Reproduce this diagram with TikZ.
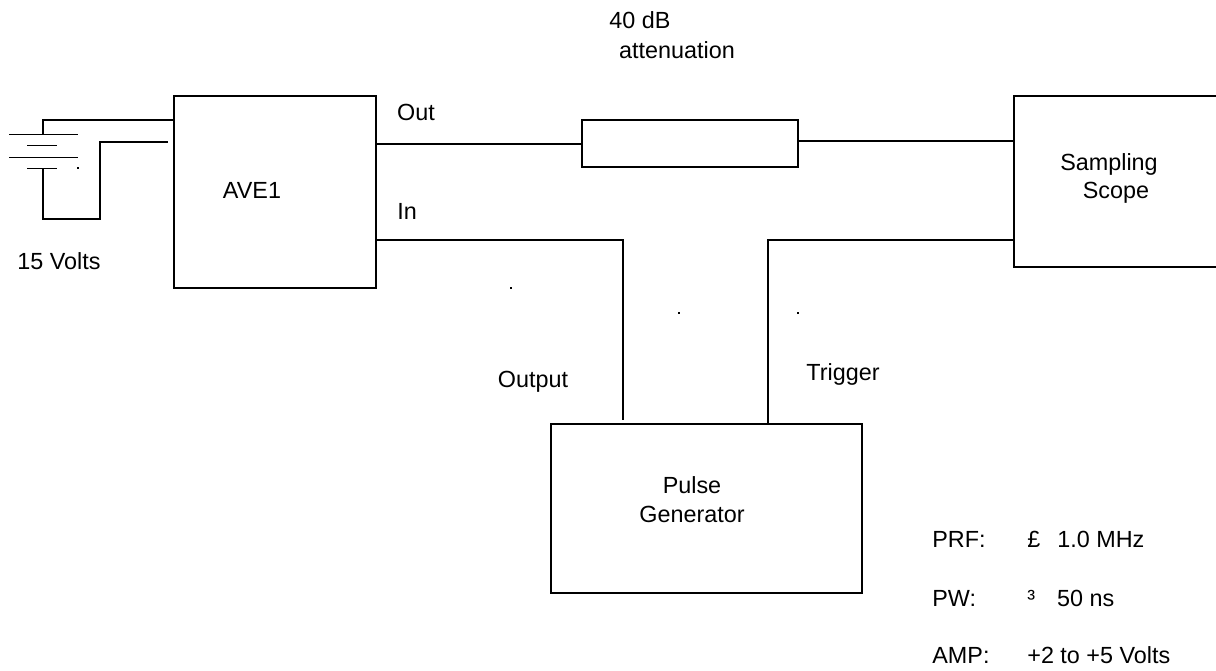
\documentclass[tikz,border=0pt]{standalone}
\usepackage{fontspec}
\setmainfont{Liberation Sans}
\usetikzlibrary{positioning}
\tikzset{
  unit/.style={draw, line width=.3mm, inner sep=0pt},
  wire/.style={line width=.3mm},
  plate/.style={line width=.2mm},
  lbl/.style={inner sep=0pt, align=center, font=\fontsize{13.3}{16.5}\selectfont},
  spec/.style={lbl, anchor=west},
  speck/.style={fill=black, inner sep=0pt, minimum size=.03cm}
}
\begin{document}
\begin{tikzpicture}[x=.02cm, y=-.02cm]
        \useasboundingbox (0, 0) rectangle (1216, 671);

        % boxes
        \node[unit, minimum width=4.04cm, minimum height=3.84cm] (ave) at(275, 192){};
        \node[unit, minimum width=4.32cm, minimum height=.94cm] (atten) at(690, 143.5){};
        \node[unit, minimum width=6.22cm, minimum height=3.38cm] (pulse) at(706.5, 508.5){};
        \coordinate (scopeTL) at(1014, 96);
        \coordinate (scopeBL) at(1014, 267);
        \coordinate (scopeTR) at(1216, 96);
        \coordinate (scopeBR) at(1216, 267);
        \draw[wire](scopeTR) -- (scopeTL) -- (scopeBL) -- (scopeBR);

        % battery
        \coordinate (plateA1) at(9, 135);
        \coordinate (plateA2) at(78, 135);
        \coordinate (plateB1) at(27, 146);
        \coordinate (plateB2) at(57, 146);
        \coordinate (plateC1) at(9, 157.5);
        \coordinate (plateC2) at(78, 157.5);
        \coordinate (plateD1) at(27, 169);
        \coordinate (plateD2) at(57, 169);
        \draw[plate](plateA1) to (plateA2);
        \draw[plate](plateB1) to (plateB2);
        \draw[plate](plateC1) to (plateC2);
        \draw[plate](plateD1) to (plateD2);
        \coordinate (battTop) at(43, 135);
        \coordinate (battBot) at(43, 169);
        \coordinate (aveA) at(174, 120);
        \coordinate (aveB) at(168, 142);
        \draw[wire](battTop) |- (aveA);
        \draw[wire](battBot) -- (43, 219) -- (100, 219) -- (100, 142) -- (aveB);

        % wiring
        \coordinate (aveOut) at(376, 144);
        \coordinate (attenIn) at(582, 144);
        \coordinate (attenOut) at(798, 141);
        \coordinate (scopeIn) at(1014, 141);
        \coordinate (aveIn) at(376, 240);
        \coordinate (pulseOut) at(623, 420);
        \coordinate (scopeTrig) at(1014, 240);
        \coordinate (pulseTrig) at(768, 424);
        \draw[wire](aveOut) to (attenIn);
        \draw[wire](attenOut) to (scopeIn);
        \draw[wire](aveIn) -| (pulseOut);
        \draw[wire](scopeTrig) -| (pulseTrig);

        % stray marks
        \node[speck] (speckA) at(78, 168){};
        \node[speck] (speckB) at(511, 288){};
        \node[speck] (speckC) at(679, 313){};
        \node[speck] (speckD) at(798, 313){};

        \node[lbl] (dbText) at(640, 20){40 dB};
        \node[lbl] (attenText) at(677, 50){attenuation};
        \node[lbl] (aveText) at(252, 190){AVE1};
        \node[lbl] (voltText) at(59, 261){15 Volts};
        \node[lbl] (outText) at(416, 112){Out};
        \node[lbl] (inText) at(407, 211){In};
        \node[lbl] (sampText) at(1109, 164){Sampling};
        \node[lbl] (scopeText) at(1116, 193){Scope};
        \node[lbl] (outputText) at(533, 382){Output};
        \node[lbl] (trigText) at(843, 374){Trigger};
        \node[lbl] (pulseText) at(692, 500){Pulse\\Generator};

        \node[spec] (prfKey) at(932, 539){PRF:};
        \node[spec] (prfVal) at(1027, 539){£\hspace{.34cm}1.0 MHz};
        \node[spec] (pwKey) at(932, 598){PW:};
        \node[spec] (pwVal) at(1027, 598){³\hspace{.44cm}50 ns};
        \node[spec] (ampKey) at(932, 655){AMP:};
        \node[spec] (ampVal) at(1027, 655){+2 to +5 Volts};
    \end{tikzpicture}
\end{document}
